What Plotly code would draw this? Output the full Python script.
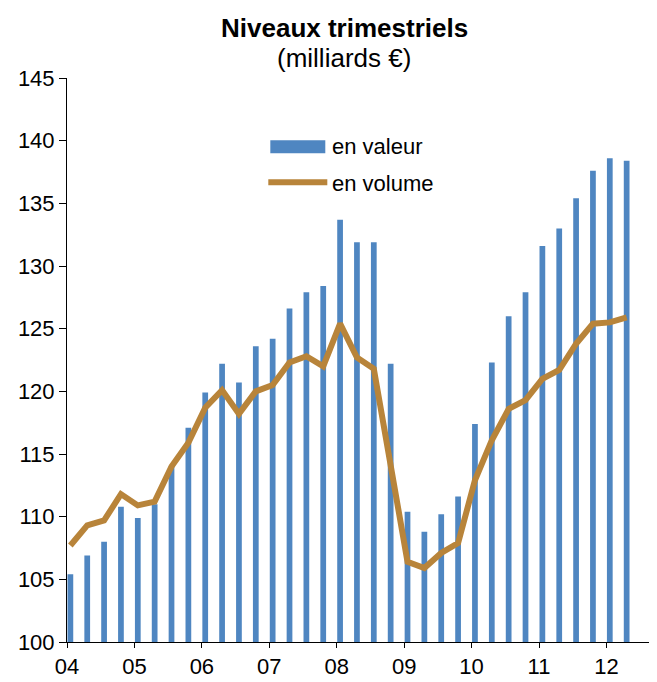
import plotly.graph_objects as go
import numpy as np

# quarterly data 2004T1 - 2012T2
years = ['04', '05', '06', '07', '08', '09', '10', '11', '12']
valeur = [105.4, 106.9, 108.0, 110.8,
          109.9, 111.0, 114.0, 117.1,
          119.9, 122.2, 120.7, 123.6,
          124.2, 126.6, 127.9, 128.4,
          133.7, 131.9, 131.9, 122.2,
          110.4, 108.8, 110.2, 111.6,
          117.4, 122.3, 126.0, 127.9,
          131.6, 133.0, 135.4, 137.6,
          138.6, 138.4]
volume = [107.7, 109.3, 109.7, 111.8,
          110.9, 111.2, 114.0, 115.9,
          118.7, 120.1, 118.2, 120.0,
          120.5, 122.3, 122.8, 122.0,
          125.4, 122.7, 121.8, 114.1,
          106.4, 105.9, 107.1, 107.9,
          112.9, 116.1, 118.6, 119.3,
          121.0, 121.7, 123.8, 125.4,
          125.5, 125.9]

BLUE = '#4F86C1'
GOLD = '#B8843A'
FONT = 'Liberation Sans, Arial, sans-serif'

x = np.arange(len(valeur)) + 0.2

fig = go.Figure()

fig.add_trace(go.Bar(
    x=x, y=valeur,
    width=0.34,
    marker=dict(color=BLUE, line=dict(width=0)),
    name='en valeur',
))

fig.add_trace(go.Scatter(
    x=x, y=volume,
    mode='lines',
    line=dict(color=GOLD, width=6),
    name='en volume',
))

# page body has an 8px margin, so the figure is sized 8px smaller
fig.update_layout(
    width=649, height=674,
    margin=dict(l=59, r=0, t=70, b=40),
    paper_bgcolor='white',
    plot_bgcolor='white',
    showlegend=False,
    font=dict(family=FONT, size=22, color='black'),
    xaxis=dict(
        range=[0, 35],
        tickvals=[4 * i for i in range(len(years))],
        ticktext=years,
        ticks='outside', ticklen=5, tickcolor='black',
        showline=True, linecolor='black', linewidth=1,
        showgrid=False, zeroline=False,
        tickfont=dict(size=22),
        automargin=False,
    ),
    yaxis=dict(
        range=[100, 145],
        dtick=5,
        ticks='outside', ticklen=7, tickcolor='black',
        showline=True, linecolor='black', linewidth=1,
        showgrid=False, zeroline=False,
        tickfont=dict(size=22),
        automargin=False,
    ),
)

# title
fig.add_annotation(text='<b>Niveaux trimestriels</b>', xref='paper', yref='paper',
                   x=0.47, y=1.088, xanchor='center', yanchor='middle',
                   showarrow=False, font=dict(size=26))
fig.add_annotation(text='(milliards €)', xref='paper', yref='paper',
                   x=0.47, y=1.036, xanchor='center', yanchor='middle',
                   showarrow=False, font=dict(size=26))

# legend drawn by hand (wide symbols as in the original)
fig.add_shape(type='rect', xref='paper', yref='paper',
              x0=0.3446, x1=0.4378, y0=0.8666, y1=0.8896,
              fillcolor=BLUE, line=dict(width=0))
fig.add_shape(type='line', xref='paper', yref='paper',
              x0=0.3412, x1=0.4412, y0=0.8152, y1=0.8152,
              line=dict(color=GOLD, width=6))
fig.add_annotation(text='en valeur', xref='paper', yref='paper',
                   x=0.4463, y=0.879, xanchor='left', yanchor='middle',
                   showarrow=False, font=dict(size=22))
fig.add_annotation(text='en volume', xref='paper', yref='paper',
                   x=0.4463, y=0.8134, xanchor='left', yanchor='middle',
                   showarrow=False, font=dict(size=22))

fig.write_html("out.html")
